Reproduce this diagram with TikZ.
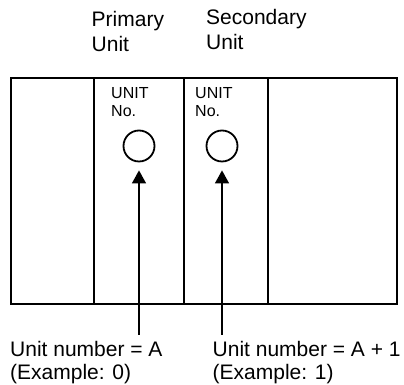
\documentclass[tikz,border=0pt]{standalone}
\usepackage{fontspec}
\setmainfont{Liberation Sans}
\usetikzlibrary{arrows.meta,positioning}

\begin{document}
\begin{tikzpicture}[x=1pt,y=1pt,
    every node/.style={inner sep=0pt,align=left,font=\fontsize{21}{25}\selectfont},
    frame/.style={line width=1.8pt},
    knob/.style={draw,circle,line width=1.8pt,minimum size=31pt},
    tag/.style={font=\fontsize{16}{18.5}\selectfont},
    pointer/.style={line width=1.3pt,-{Triangle[width=14pt,length=13pt]},shorten >=8pt}]
        \useasboundingbox (0,0) rectangle (404,385);
        % rack with four slots
        \draw[frame] (11,81) rectangle (397,307);
        \draw[frame] (94,81) -- (94,307);
        \draw[frame] (184,81) -- (184,307);
        \draw[frame] (268,81) -- (268,307);
        % headings
        \node[anchor=base west] (primary) at (91.5,333.3) {Primary\\Unit};
        \node[anchor=base west] (secondary) at (206,335) {Secondary\\Unit};
        % rotary switches
        \node[tag,anchor=base west] (tagA) at (111,268.2) {UNIT\\No.};
        \node[tag,anchor=base west] (tagB) at (195,268.2) {UNIT\\No.};
        \node[knob] (knobA) at (139,239) {};
        \node[knob] (knobB) at (222,239) {};
        % labels
        \node[anchor=base west,font=\fontsize{21}{23.5}\selectfont] (lblA) at (10,5) {Unit number = A\\(Example: 0)};
        \node[anchor=base west,font=\fontsize{21}{23.5}\selectfont] (lblB) at (212.5,5) {Unit number = A + 1\\(Example: 1)};
        \coordinate (tailA) at (139,50);
        \coordinate (tailB) at (222,50);
        \draw[pointer] (tailA) -- (knobA.south);
        \draw[pointer] (tailB) -- (knobB.south);
      \end{tikzpicture}
\end{document}
